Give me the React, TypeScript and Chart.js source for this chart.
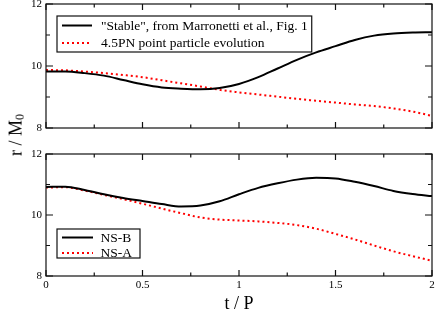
import React, { useEffect, useRef } from "react";
import { Chart, registerables } from "chart.js";

Chart.register(...registerables);

// ---- data ----
const tValues = [0, 0.1, 0.2, 0.3, 0.4, 0.5, 0.6, 0.7, 0.8, 0.9, 1.0, 1.1, 1.2, 1.3, 1.4, 1.5, 1.6, 1.7, 1.8, 1.9, 2.0];

const stableR = [9.82, 9.82, 9.77, 9.69, 9.55, 9.41, 9.31, 9.27, 9.25, 9.29, 9.42, 9.64, 9.92, 10.2, 10.44, 10.64, 10.84, 10.98, 11.05, 11.08, 11.09];
const pn45R = [9.87, 9.86, 9.82, 9.77, 9.71, 9.64, 9.54, 9.44, 9.34, 9.23, 9.15, 9.08, 9.01, 8.94, 8.88, 8.82, 8.76, 8.71, 8.63, 8.53, 8.39];

const nsbR = [10.92, 10.93, 10.82, 10.68, 10.56, 10.46, 10.36, 10.28, 10.31, 10.45, 10.68, 10.89, 11.04, 11.16, 11.22, 11.2, 11.09, 10.95, 10.79, 10.69, 10.62];
const nsaR = [10.9, 10.91, 10.8, 10.66, 10.52, 10.37, 10.21, 10.06, 9.92, 9.85, 9.82, 9.79, 9.74, 9.67, 9.55, 9.38, 9.2, 9.0, 8.81, 8.65, 8.5];

const topLabels = ['"Stable", from Marronetti et al., Fig. 1', "4.5PN point particle evolution"];
const bottomLabels = ["NS-B", "NS-A"];

const xMin = 0;
const xMax = 2;
const xMajorStep = 0.5;
const xMinorStep = 0.25;
const yMin = 8;
const yMax = 12;
const yMajorStep = 2;
const yMinorStep = 1;

const xTitle = "t / P";

const SERIF = '"Liberation Serif", "Times New Roman", serif';

const toPoints = (ys: number[]) => tValues.map((t, i) => ({ x: t, y: ys[i] }));

const isMultiple = (v: number, step: number) => Math.abs(v / step - Math.round(v / step)) < 1e-6;

const framePlugin = {
  id: "frameTicks",
  afterDatasetsDraw(chart: any) {
    const { ctx, chartArea: a, scales } = chart;
    const xs = scales.x;
    const ys = scales.y;
    ctx.save();
    ctx.strokeStyle = "#111";
    ctx.lineWidth = 1.2;
    ctx.strokeRect(a.left, a.top, a.right - a.left, a.bottom - a.top);
    ctx.beginPath();
    for (let v = xs.min; v <= xs.max + 1e-9; v += xMinorStep) {
      const px = xs.getPixelForValue(v);
      const len = isMultiple(v, xMajorStep) ? 6 : 3.5;
      ctx.moveTo(px, a.bottom);
      ctx.lineTo(px, a.bottom - len);
      ctx.moveTo(px, a.top);
      ctx.lineTo(px, a.top + len);
    }
    for (let v = ys.min; v <= ys.max + 1e-9; v += yMinorStep) {
      const py = ys.getPixelForValue(v);
      const len = isMultiple(v, yMajorStep) ? 7 : 4;
      ctx.moveTo(a.left, py);
      ctx.lineTo(a.left + len, py);
      ctx.moveTo(a.right, py);
      ctx.lineTo(a.right - len, py);
    }
    ctx.stroke();
    ctx.restore();
  },
};

const boxLegendPlugin = {
  id: "boxLegend",
  afterDraw(chart: any, _args: any, opts: any) {
    const { ctx, chartArea: a } = chart;
    const datasets = chart.data.datasets;
    ctx.save();
    ctx.font = `${opts.fontSize}px ${SERIF}`;
    let maxW = 0;
    datasets.forEach((d: any) => {
      maxW = Math.max(maxW, ctx.measureText(d.label).width);
    });
    const left = a.left + opts.offsetX;
    const width = opts.textStart + maxW + opts.padRight;
    const height = opts.height;
    const top = opts.fromBottom ? a.bottom - opts.offsetY - height : a.top + opts.offsetY;
    ctx.fillStyle = "#fff";
    ctx.fillRect(left, top, width, height);
    ctx.strokeStyle = "#111";
    ctx.lineWidth = 1.2;
    ctx.strokeRect(left, top, width, height);
    datasets.forEach((d: any, i: number) => {
      const cy = top + opts.firstRow + i * opts.rowH;
      ctx.save();
      ctx.strokeStyle = d.borderColor;
      ctx.lineWidth = d.borderWidth;
      ctx.setLineDash(d.borderDash || []);
      ctx.beginPath();
      ctx.moveTo(left + opts.lineStart, cy);
      ctx.lineTo(left + opts.lineStart + opts.lineLen, cy);
      ctx.stroke();
      ctx.restore();
      ctx.fillStyle = "#000";
      ctx.textBaseline = "middle";
      ctx.textAlign = "left";
      ctx.fillText(d.label, left + opts.textStart, cy + 0.5);
    });
    ctx.restore();
  },
};

function makeDatasets(labels: string[], solid: number[], dotted: number[]) {
  return [
    {
      label: labels[0],
      data: toPoints(solid),
      borderColor: "#000",
      borderWidth: 2,
      pointRadius: 0,
      cubicInterpolationMode: "monotone" as const,
      fill: false,
    },
    {
      label: labels[1],
      data: toPoints(dotted),
      borderColor: "#ff0000",
      borderWidth: 2,
      borderDash: [2, 3],
      pointRadius: 0,
      cubicInterpolationMode: "monotone" as const,
      fill: false,
    },
  ];
}

function makeOptions(showX: boolean, legendOpts: any, padding: any) {
  return {
    responsive: false,
    animation: false as const,
    events: [],
    layout: { padding },
    plugins: {
      legend: { display: false },
      tooltip: { enabled: false },
      title: { display: false },
      boxLegend: legendOpts,
    },
    scales: {
      x: {
        type: "linear" as const,
        min: xMin,
        max: xMax,
        grid: { display: false, drawTicks: false },
        border: { display: false },
        ticks: {
          display: showX,
          stepSize: xMajorStep,
          padding: 3,
          color: "#000",
          font: { family: SERIF, size: 11 },
          callback: (v: any) => String(Number(v)),
        },
        title: {
          display: showX,
          text: xTitle,
          color: "#000",
          padding: { top: 0, bottom: -2 },
          font: { family: SERIF, size: 18, lineHeight: 1 },
        },
        afterFit(scale: any) {
          scale.height = showX ? 35 : 0;
          scale.paddingLeft = 0;
          scale.paddingRight = 0;
        },
      },
      y: {
        type: "linear" as const,
        min: yMin,
        max: yMax,
        grid: { display: false, drawTicks: false },
        border: { display: false },
        ticks: {
          stepSize: yMajorStep,
          padding: 4,
          color: "#000",
          font: { family: SERIF, size: 11 },
          callback: (v: any) => String(Number(v)),
        },
        afterFit(scale: any) {
          scale.width = 46;
          scale.paddingTop = 0;
          scale.paddingBottom = 0;
        },
      },
    },
  };
}

function Panel(props: { width: number; height: number; datasets: any[]; options: any }) {
  const ref = useRef<HTMLCanvasElement | null>(null);
  useEffect(() => {
    if (!ref.current) return;
    const chart = new Chart(ref.current, {
      type: "line",
      data: { datasets: props.datasets },
      options: props.options,
      plugins: [framePlugin, boxLegendPlugin],
    } as any);
    return () => chart.destroy();
  }, []);
  return <canvas ref={ref} width={props.width} height={props.height} style={{ display: "block" }} />;
}

export default function App() {
  const topDatasets = makeDatasets(topLabels, stableR, pn45R);
  const bottomDatasets = makeDatasets(bottomLabels, nsbR, nsaR);
  const topOptions = makeOptions(
    false,
    { fontSize: 13.5, offsetX: 11, offsetY: 12, height: 36, firstRow: 9.5, rowH: 17.5, lineStart: 5, lineLen: 30, textStart: 44, padRight: 4, fromBottom: false },
    { left: 0, right: 4, top: 4, bottom: 12 }
  );
  const bottomOptions = makeOptions(
    true,
    { fontSize: 13.5, offsetX: 11, offsetY: 18, height: 29, firstRow: 8.5, rowH: 15.5, lineStart: 5, lineLen: 31, textStart: 43.5, padRight: 8, fromBottom: true },
    { left: 0, right: 4, top: 14, bottom: 0 }
  );
  return (
    <div style={{ position: "fixed", left: 0, top: 0, width: 436, height: 311, background: "#fff", overflow: "hidden" }}>
      <div style={{ position: "absolute", left: 0, top: 0 }}>
        <Panel width={436} height={140} datasets={topDatasets} options={topOptions} />
      </div>
      <div style={{ position: "absolute", left: 0, top: 140 }}>
        <Panel width={436} height={171} datasets={bottomDatasets} options={bottomOptions} />
      </div>
      <div
        style={{
          position: "absolute",
          left: 16,
          top: 135,
          transform: "translate(-50%, -50%) rotate(-90deg)",
          whiteSpace: "nowrap",
          fontFamily: SERIF,
          fontSize: 18,
          lineHeight: 1,
          color: "#000",
        }}
      >
        r / M<span style={{ fontSize: 12, verticalAlign: "-0.15em" }}>0</span>
      </div>
    </div>
  );
}
